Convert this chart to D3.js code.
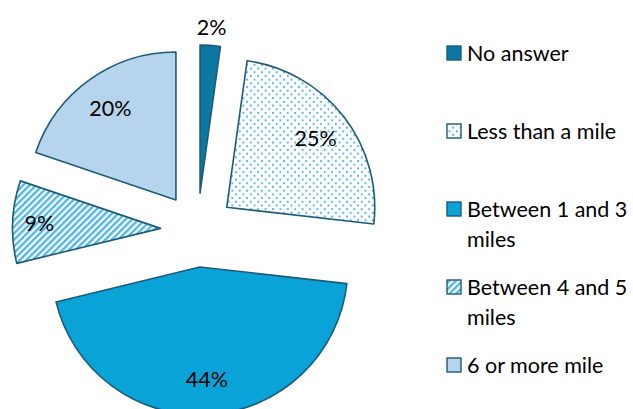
<!DOCTYPE html>
<html>
<head>
<meta charset="utf-8">
<script src="https://cdn.jsdelivr.net/npm/d3@7"></script>
<style>
  html, body { margin: 0; padding: 0; background: #fff; }
  svg { display: block; font-family: Lato, "Open Sans", sans-serif; }
</style>
</head>
<body>
<svg id="chart" width="633" height="409"></svg>
<script>
// ---- data ----
const categories = ["No answer", "Less than a mile", "Between 1 and 3 miles", "Between 4 and 5 miles", "6 or more mile"];
const values = [2.2, 24.6, 44.4, 9.0, 19.8];
const fills = ["#0b78a2", "url(#dots)", "#0aa3d8", "url(#stripes)", "#b6d4ec"];

// ---- layout ----
const W = 633, H = 409;
const cx = 197.5, cy = 230, R = 148, explode = 37;
const stroke = "#1c5b7a";

const svg = d3.select("#chart");
const defs = svg.append("defs");

// dotted pattern
const pd = defs.append("pattern").attr("id", "dots")
  .attr("patternUnits", "userSpaceOnUse").attr("width", 7.4).attr("height", 7.4);
pd.append("rect").attr("width", 7.4).attr("height", 7.4).attr("fill", "#fff");
pd.append("circle").attr("cx", 1.85).attr("cy", 1.85).attr("r", 1.05).attr("fill", "#45b4ea");
pd.append("circle").attr("cx", 5.55).attr("cy", 5.55).attr("r", 1.05).attr("fill", "#45b4ea");

// diagonal stripes pattern
const ps = defs.append("pattern").attr("id", "stripes")
  .attr("patternUnits", "userSpaceOnUse").attr("width", 4.6).attr("height", 4.6)
  .attr("patternTransform", "rotate(45)");
ps.append("rect").attr("width", 4.6).attr("height", 4.6).attr("fill", "#fff");
ps.append("rect").attr("x", 0).attr("width", 2.3).attr("height", 4.6).attr("fill", "#4ab6ea");

const pie = d3.pie().sort(null).value(d => d)(values);
const arc = d3.arc().innerRadius(0).outerRadius(R);

const g = svg.append("g").attr("transform", `translate(${cx},${cy})`);

const slices = g.selectAll("g.slice").data(pie).join("g")
  .attr("class", "slice")
  .attr("transform", d => {
    const a = (d.startAngle + d.endAngle) / 2;
    return `translate(${Math.sin(a) * explode},${-Math.cos(a) * explode})`;
  });

slices.append("path")
  .attr("d", arc)
  .attr("fill", (d, i) => fills[i])
  .attr("stroke", stroke)
  .attr("stroke-width", 1.6)
  .attr("stroke-linejoin", "round");

slices.append("text")
  .attr("transform", d => {
    const a = (d.startAngle + d.endAngle) / 2;
    const f = d.value < 5 ? 1.12 : (d.value < 12 ? 0.82 : 0.76);
    return `translate(${Math.sin(a) * R * f},${-Math.cos(a) * R * f})`;
  })
  .attr("text-anchor", "middle")
  .attr("dy", "0.36em")
  .attr("font-size", 21.5)
  .attr("fill", "#000")
  .text(d => Math.round(d.value) + "%");

// ---- legend ----
const lx = 447, ly0 = 53, step = 78, lineH = 30, maxW = 166;
const leg = svg.append("g");
categories.forEach((c, i) => {
  const y = ly0 + i * step;
  leg.append("rect")
    .attr("x", lx).attr("y", y - 7).attr("width", 14).attr("height", 14)
    .attr("fill", fills[i]).attr("stroke", stroke).attr("stroke-width", 1.4);
  const t = leg.append("text")
    .attr("x", lx + 20).attr("y", y)
    .attr("font-size", 21.5).attr("fill", "#000");
  // word wrap
  const words = c.split(" ");
  let line = [], lineNo = 0;
  let ts = t.append("tspan").attr("x", lx + 20).attr("dy", "0.36em");
  words.forEach(w => {
    line.push(w);
    ts.text(line.join(" "));
    if (ts.node().getComputedTextLength() > maxW && line.length > 1) {
      line.pop();
      ts.text(line.join(" "));
      line = [w];
      lineNo++;
      ts = t.append("tspan").attr("x", lx + 20).attr("y", y + lineNo * lineH).attr("dy", "0.36em").text(w);
    }
  });
});
</script>
</body>
</html>
